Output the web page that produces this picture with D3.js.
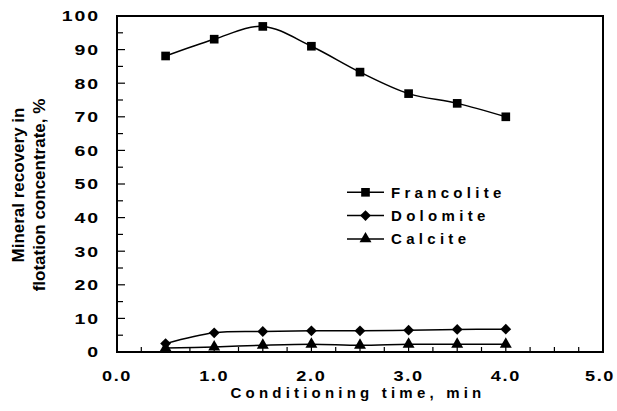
<!DOCTYPE html>
<html>
<head>
<meta charset="utf-8">
<script src="https://cdn.jsdelivr.net/npm/d3@7"></script>
<style>
  body { margin: 0; background: #fff; }
  svg text { font-family: Arial, "Liberation Sans", sans-serif; font-weight: 700; fill: #000; }
</style>
</head>
<body>
<svg id="chart" width="617" height="411"></svg>
<script>
// conditioning time, min
const times = [0.5, 1.0, 1.5, 2.0, 2.5, 3.0, 3.5, 4.0];
const francolite = [88.1, 93.1, 96.9, 91.0, 83.3, 76.9, 74.0, 70.0];
const dolomite = [2.5, 5.7, 6.1, 6.3, 6.3, 6.5, 6.7, 6.8];
const calcite = [1.2, 1.5, 2.0, 2.3, 2.0, 2.3, 2.3, 2.3];
const seriesNames = ["Francolite", "Dolomite", "Calcite"];
const xTickLabels = ["0.0", "1.0", "2.0", "3.0", "4.0", "5.0"];
const yTickLabels = ["0", "10", "20", "30", "40", "50", "60", "70", "80", "90", "100"];

const svg = d3.select("#chart");
const m = { left: 117, right: 14, top: 16, bottom: 59 };
const W = 617, H = 411;

const x = d3.scaleLinear().domain([0, 5]).range([m.left, W - m.right]);
const y = d3.scaleLinear().domain([0, 100]).range([H - m.bottom, m.top]);

// ticks point inward
const xMinor = d3.range(0, 5.01, 0.25);
svg.append("g").selectAll("line").data(xMinor).join("line")
  .attr("x1", d => x(d)).attr("x2", d => x(d))
  .attr("y1", y(0)).attr("y2", y(0) - 5)
  .attr("stroke", "#000").attr("stroke-width", 1.2);

const yMinor = d3.range(0, 100.1, 5);
svg.append("g").selectAll("line").data(yMinor).join("line")
  .attr("x1", x(0)).attr("x2", d => x(0) + (d % 10 === 0 ? 8 : 6))
  .attr("y1", d => y(d)).attr("y2", d => y(d))
  .attr("stroke", "#000").attr("stroke-width", 1.2);

svg.append("rect")
  .attr("x", x(0)).attr("y", y(100))
  .attr("width", x(5) - x(0)).attr("height", y(0) - y(100))
  .attr("fill", "none").attr("stroke", "#000").attr("stroke-width", 2);

// tick labels are wide in the original, so stretch them a bit
const stretch = 1.3;
svg.append("g").selectAll("text").data(yTickLabels).join("text")
  .attr("transform", d => `translate(${x(0) - 17},${y(+d) + 5.3}) scale(${stretch},1)`)
  .attr("text-anchor", "end")
  .style("font-size", "15px").style("letter-spacing", "1.5px")
  .text(d => d);

svg.append("g").selectAll("text").data(xTickLabels).join("text")
  .attr("transform", d => `translate(${Math.min(x(+d), 600)},${y(0) + 29}) scale(1.25,1)`)
  .attr("text-anchor", "middle")
  .style("font-size", "14.5px").style("letter-spacing", "1.3px")
  .text(d => d);

// axis titles
svg.append("text")
  .attr("x", 358).attr("y", 398)
  .attr("text-anchor", "middle")
  .style("font-size", "15px").style("letter-spacing", "4.2px")
  .text("Conditioning time, min");

svg.append("text")
  .attr("transform", "translate(24,185) rotate(-90)")
  .attr("text-anchor", "middle")
  .style("font-size", "17px")
  .text("Mineral recovery in");
svg.append("text")
  .attr("transform", "translate(45,195) rotate(-90)")
  .attr("text-anchor", "middle")
  .style("font-size", "17px")
  .text("flotation concentrate, %");

// markers
const diamond = {
  draw(ctx, size) {
    const r = Math.sqrt(size / 2);
    ctx.moveTo(0, -r); ctx.lineTo(r, 0); ctx.lineTo(0, r); ctx.lineTo(-r, 0); ctx.closePath();
  }
};
const symbols = [
  d3.symbol().type(d3.symbolSquare).size(75),
  d3.symbol().type(diamond).size(58),
  d3.symbol().type(d3.symbolTriangle).size(62)
];

const allSeries = [francolite, dolomite, calcite];
const line = d3.line()
  .x(d => x(d[0])).y(d => y(d[1]))
  .curve(d3.curveCatmullRom.alpha(0.5));

allSeries.forEach((vals, i) => {
  const pts = times.map((t, j) => [t, vals[j]]);
  svg.append("path").datum(pts)
    .attr("d", line)
    .attr("fill", "none").attr("stroke", "#000").attr("stroke-width", 1.5);
  svg.append("g").selectAll("path").data(pts).join("path")
    .attr("transform", d => `translate(${x(d[0])},${y(d[1])})`)
    .attr("d", symbols[i]())
    .attr("fill", "#000");
});

// legend
const lg = svg.append("g");
seriesNames.forEach((name, i) => {
  const ly = 192.3 + i * 23.3;
  lg.append("line").attr("x1", 347).attr("x2", 384).attr("y1", ly).attr("y2", ly)
    .attr("stroke", "#000").attr("stroke-width", 1.5);
  lg.append("path").attr("transform", `translate(365.5,${ly})`)
    .attr("d", symbols[i]()).attr("fill", "#000");
  lg.append("text").attr("x", 391).attr("y", ly + 5.3)
    .style("font-size", "15px").style("letter-spacing", "4.3px")
    .text(name);
});
</script>
</body>
</html>
